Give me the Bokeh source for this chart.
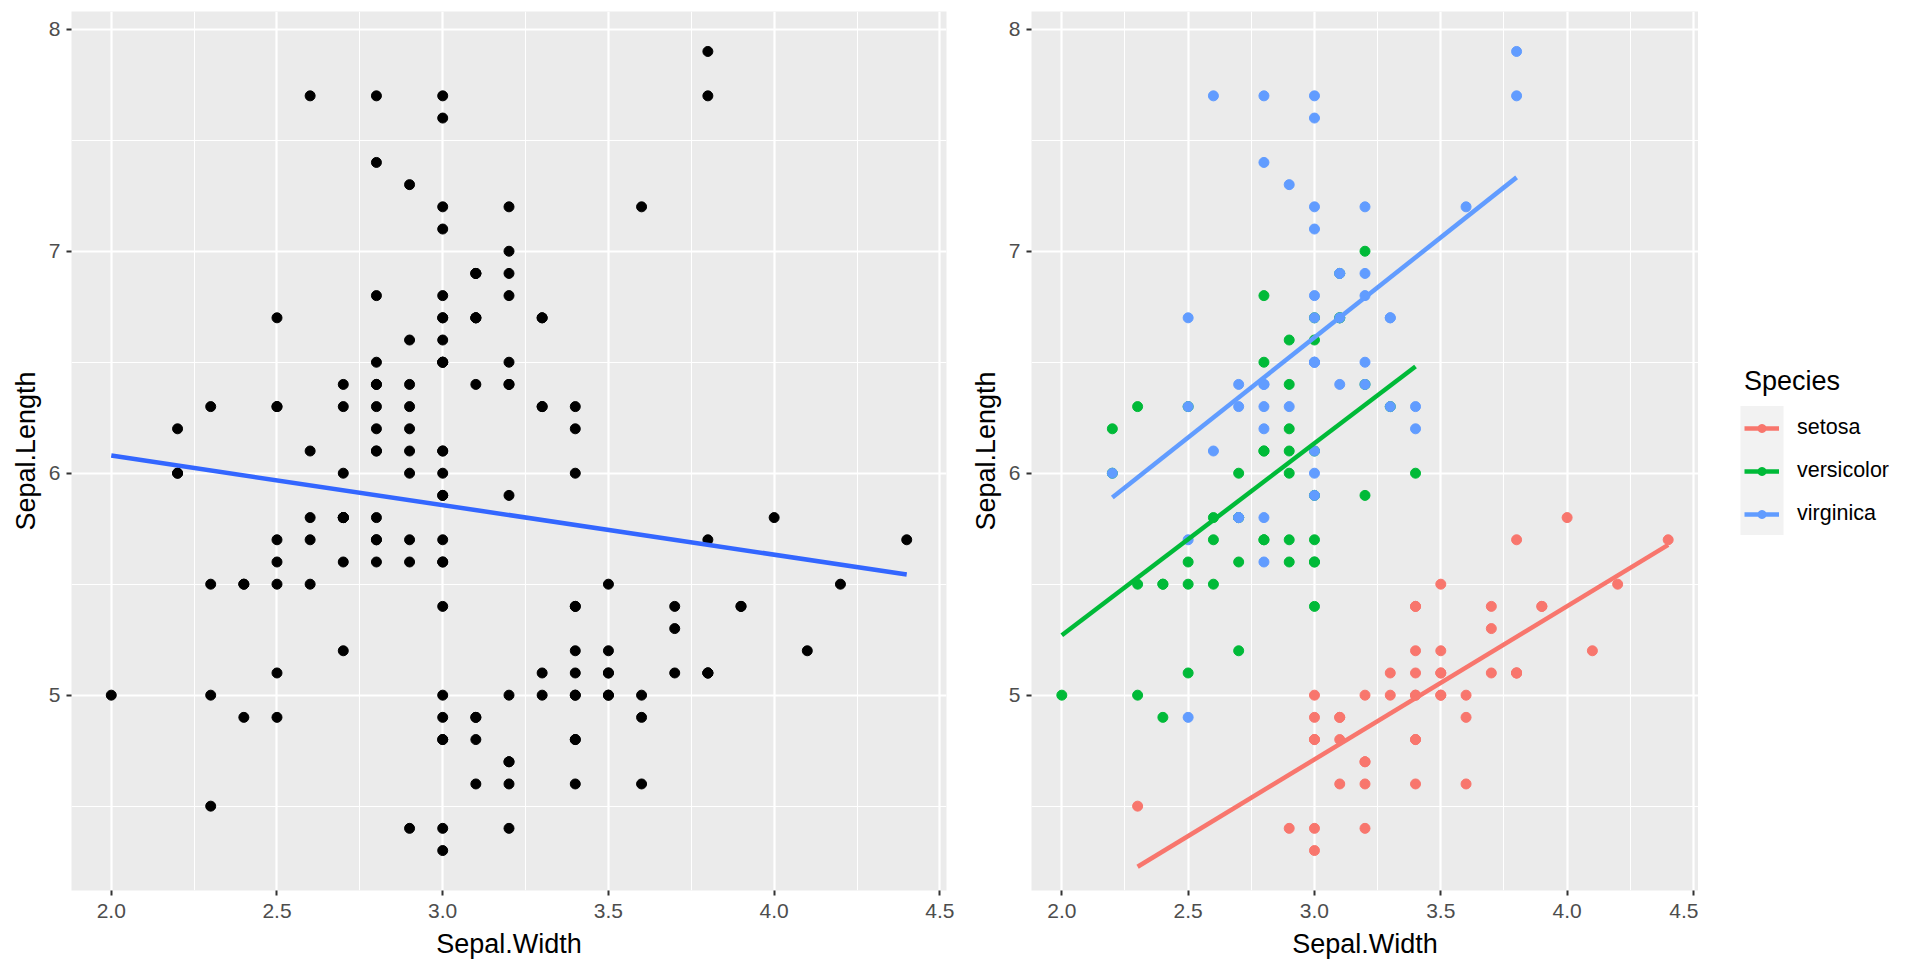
import numpy as np
from bokeh.plotting import figure
from bokeh.layouts import row
from bokeh.models import (Range1d, FixedTicker, PrintfTickFormatter, Legend, LegendItem,
                          ColumnDataSource, BoxAnnotation)
from bokeh.embed import file_html
from bokeh.resources import INLINE

# ---- iris data (Sepal.Length, Sepal.Width, Species) ----
sepal_length = [
    5.1, 4.9, 4.7, 4.6, 5.0, 5.4, 4.6, 5.0, 4.4, 4.9, 5.4, 4.8, 4.8, 4.3, 5.8, 5.7, 5.4, 5.1, 5.7, 5.1,
    5.4, 5.1, 4.6, 5.1, 4.8, 5.0, 5.0, 5.2, 5.2, 4.7, 4.8, 5.4, 5.2, 5.5, 4.9, 5.0, 5.5, 4.9, 4.4, 5.1,
    5.0, 4.5, 4.4, 5.0, 5.1, 4.8, 5.1, 4.6, 5.3, 5.0,
    7.0, 6.4, 6.9, 5.5, 6.5, 5.7, 6.3, 4.9, 6.6, 5.2, 5.0, 5.9, 6.0, 6.1, 5.6, 6.7, 5.6, 5.8, 6.2, 5.6,
    5.9, 6.1, 6.3, 6.1, 6.4, 6.6, 6.8, 6.7, 6.0, 5.7, 5.5, 5.5, 5.8, 6.0, 5.4, 6.0, 6.7, 6.3, 5.6, 5.5,
    5.5, 6.1, 5.8, 5.0, 5.6, 5.7, 5.7, 6.2, 5.1, 5.7,
    6.3, 5.8, 7.1, 6.3, 6.5, 7.6, 4.9, 7.3, 6.7, 7.2, 6.5, 6.4, 6.8, 5.7, 5.8, 6.4, 6.5, 7.7, 7.7, 6.0,
    6.9, 5.6, 7.7, 6.3, 6.7, 7.2, 6.2, 6.1, 6.4, 7.2, 7.4, 7.9, 6.4, 6.3, 6.1, 7.7, 6.3, 6.4, 6.0, 6.9,
    6.7, 6.9, 5.8, 6.8, 6.7, 6.7, 6.3, 6.5, 6.2, 5.9,
]
sepal_width = [
    3.5, 3.0, 3.2, 3.1, 3.6, 3.9, 3.4, 3.4, 2.9, 3.1, 3.7, 3.4, 3.0, 3.0, 4.0, 4.4, 3.9, 3.5, 3.8, 3.8,
    3.4, 3.7, 3.6, 3.3, 3.4, 3.0, 3.4, 3.5, 3.4, 3.2, 3.1, 3.4, 4.1, 4.2, 3.1, 3.2, 3.5, 3.6, 3.0, 3.4,
    3.5, 2.3, 3.2, 3.5, 3.8, 3.0, 3.8, 3.2, 3.7, 3.3,
    3.2, 3.2, 3.1, 2.3, 2.8, 2.8, 3.3, 2.4, 2.9, 2.7, 2.0, 3.0, 2.2, 2.9, 2.9, 3.1, 3.0, 2.7, 2.2, 2.5,
    3.2, 2.8, 2.5, 2.8, 2.9, 3.0, 2.8, 3.0, 2.9, 2.6, 2.4, 2.4, 2.7, 2.7, 3.0, 3.4, 3.1, 2.3, 3.0, 2.5,
    2.6, 3.0, 2.6, 2.3, 2.7, 3.0, 2.9, 2.9, 2.5, 2.8,
    3.3, 2.7, 3.0, 2.9, 3.0, 3.0, 2.5, 2.9, 2.5, 3.6, 3.2, 2.7, 3.0, 2.5, 2.8, 3.2, 3.0, 3.8, 2.6, 2.2,
    3.2, 2.8, 2.8, 2.7, 3.3, 3.2, 2.8, 3.0, 2.8, 3.0, 2.8, 3.8, 2.8, 2.8, 2.6, 3.0, 3.4, 3.1, 3.0, 3.1,
    3.1, 3.1, 2.7, 3.2, 3.3, 3.0, 2.5, 3.0, 3.4, 3.0,
]
species = ["setosa"] * 50 + ["versicolor"] * 50 + ["virginica"] * 50
species_names = ["setosa", "versicolor", "virginica"]
species_colors = ["#F8766D", "#00BA38", "#619CFF"]

x_ticks = [2.0, 2.5, 3.0, 3.5, 4.0, 4.5]
x_minor = [2.25, 2.75, 3.25, 3.75, 4.25]
y_ticks = [5, 6, 7, 8]
y_minor = [4.5, 5.5, 6.5, 7.5]

FONT = "Liberation Sans"
x_arr = np.array(sepal_width)
y_arr = np.array(sepal_length)
sp_arr = np.array(species)


def lm_line(x, y):
    b, a = np.polyfit(x, y, 1)
    xs = np.array([x.min(), x.max()])
    return xs, a + b * xs


def style(p):
    p.background_fill_color = "#EBEBEB"
    p.border_fill_color = "white"
    p.outline_line_color = None
    p.xaxis.ticker = FixedTicker(ticks=x_ticks, minor_ticks=x_minor)
    p.yaxis.ticker = FixedTicker(ticks=y_ticks, minor_ticks=y_minor)
    p.xaxis.formatter = PrintfTickFormatter(format="%.1f")
    p.yaxis.formatter = PrintfTickFormatter(format="%d")
    for ax in (p.xaxis, p.yaxis):
        ax.axis_line_color = None
        ax.minor_tick_line_color = None
        ax.major_tick_line_color = "#333333"
        ax.major_tick_line_width = 2
        ax.major_tick_in = 0
        ax.major_tick_out = 5
        ax.major_label_text_font = FONT
        ax.major_label_text_font_size = "21px"
        ax.major_label_text_color = "#4D4D4D"
        ax.axis_label_text_font = FONT
        ax.axis_label_text_font_size = "27px"
        ax.axis_label_text_font_style = "normal"
        ax.axis_label_text_color = "black"
    p.xaxis.major_label_standoff = 8
    p.yaxis.major_label_standoff = 6
    p.xaxis.axis_label_standoff = 8
    p.yaxis.axis_label_standoff = 5
    p.xaxis.axis_label = "Sepal.Width"
    p.yaxis.axis_label = "Sepal.Length"
    for g in (p.xgrid, p.ygrid):
        g.grid_line_color = "white"
        g.grid_line_width = 2.2
        g.minor_grid_line_color = "white"
        g.minor_grid_line_width = 1.1


# ---- left panel ----
p1 = figure(width=956, height=961, output_backend="svg", toolbar_location=None,
            x_range=Range1d(1.88, 4.52), y_range=Range1d(4.12, 8.08),
            min_border_left=71, min_border_right=10, min_border_top=11, min_border_bottom=70)
style(p1)
p1.scatter(sepal_width, sepal_length, size=10, color="black")
lx, ly = lm_line(x_arr, y_arr)
p1.line(lx, ly, line_color="#3366FF", line_width=4.5)

# ---- right panel ----
p2 = figure(width=742, height=961, output_backend="svg", toolbar_location=None,
            x_range=Range1d(1.88, 4.52), y_range=Range1d(4.12, 8.08),
            min_border_left=75, min_border_right=0, min_border_top=11, min_border_bottom=70)
style(p2)
for name, col in zip(species_names, species_colors):
    m = sp_arr == name
    src = ColumnDataSource(dict(x=x_arr[m], y=y_arr[m]))
    p2.scatter("x", "y", source=src, size=10, color=col)
for name, col in zip(species_names, species_colors):
    m = sp_arr == name
    lx, ly = lm_line(x_arr[m], y_arr[m])
    p2.line(lx, ly, line_color=col, line_width=4.5)

# ---- legend panel (frame aligned with the panels: y 11..891 on screen) ----
p3 = figure(width=222, height=961, output_backend="svg", toolbar_location=None,
            x_range=Range1d(0, 222), y_range=Range1d(891, 11),
            x_axis_location=None, y_axis_location=None,
            min_border_left=0, min_border_right=0, min_border_top=11, min_border_bottom=70)
p3.outline_line_color = None
p3.background_fill_color = "white"
p3.border_fill_color = "white"
p3.xgrid.visible = False
p3.ygrid.visible = False
p3.add_layout(BoxAnnotation(left=42, right=85, top=406, bottom=535,
                            fill_color="#F2F2F2", fill_alpha=1, line_color=None, level="underlay"))
items = []
for name, col in zip(species_names, species_colors):
    m = sp_arr == name
    src = ColumnDataSource(dict(x=x_arr[m], y=y_arr[m]))
    lr = p3.line("x", "y", source=src, line_color=col, line_width=4.5, visible=False)
    sr = p3.scatter("x", "y", source=src, size=10, color=col, visible=False)
    items.append(LegendItem(label=name, renderers=[lr, sr]))

legend = Legend(items=items, location=(46, 364), orientation="vertical")
legend.title = "Species"
legend.title_text_font = FONT
legend.title_text_font_size = "27px"
legend.title_text_font_style = "normal"
legend.title_text_color = "black"
legend.title_standoff = 18
legend.label_text_font = FONT
legend.label_text_font_size = "21.5px"
legend.label_text_color = "black"
legend.label_standoff = 18
legend.label_height = 20
legend.glyph_width = 35
legend.glyph_height = 20
legend.spacing = 18
legend.padding = 0
legend.margin = 0
legend.border_line_color = None
legend.background_fill_alpha = 0
legend.inactive_fill_alpha = 0
p3.add_layout(legend, "center")

layout = row(p1, p2, p3)
open("out.html", "w").write(file_html(layout, INLINE))
